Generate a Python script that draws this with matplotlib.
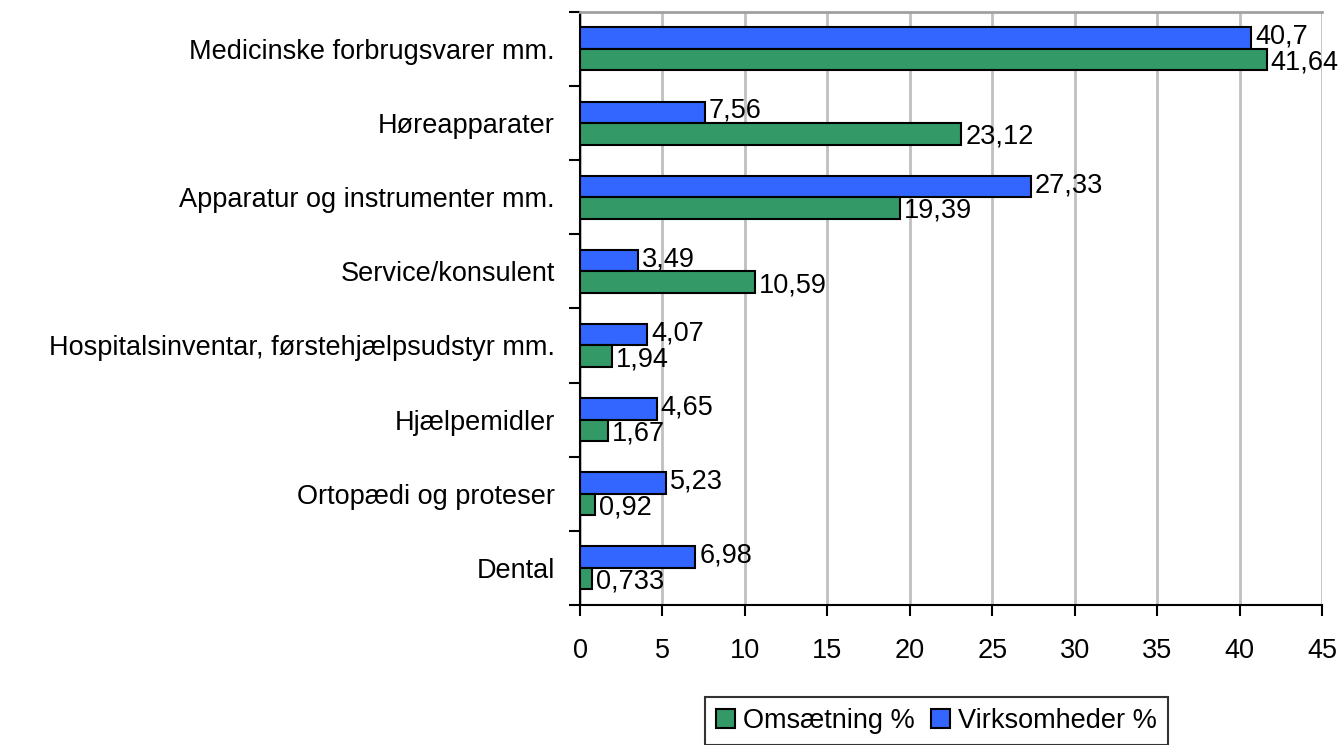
import matplotlib.pyplot as plt
import numpy as np

kategorier = ["Medicinske forbrugsvarer mm.", "Høreapparater", "Apparatur og instrumenter mm.",
              "Service/konsulent", "Hospitalsinventar, førstehjælpsudstyr mm.", "Hjælpemidler",
              "Ortopædi og proteser", "Dental"]
virksomheder = [40.7, 7.56, 27.33, 3.49, 4.07, 4.65, 5.23, 6.98]
omsaetning = [41.64, 23.12, 19.39, 10.59, 1.94, 1.67, 0.92, 0.733]
virk_tekst = ["40,7", "7,56", "27,33", "3,49", "4,07", "4,65", "5,23", "6,98"]
oms_tekst = ["41,64", "23,12", "19,39", "10,59", "1,94", "1,67", "0,92", "0,733"]

plt.rcParams['font.family'] = ['Liberation Sans', 'DejaVu Sans']
plt.rcParams['font.size'] = 19.5

fig = plt.figure(figsize=(13.38, 7.45), dpi=100)
ax = fig.add_axes([0.4335, 0.188, 0.988 - 0.4335, 0.984 - 0.188])

n = len(kategorier)
y = np.arange(n)[::-1]
h = 0.29
blaa = ax.barh(y + h / 2, virksomheder, h, color='#3366FF', edgecolor='black', lw=1.5,
               label='Virksomheder %', zorder=3)
groen = ax.barh(y - h / 2, omsaetning, h, color='#339966', edgecolor='black', lw=1.5,
                label='Omsætning %', zorder=3)

for i in range(n):
    ax.text(virksomheder[i] + 0.25, y[i] + h / 2 + 0.02, virk_tekst[i], va='center', ha='left', zorder=4)
    ax.text(omsaetning[i] + 0.25, y[i] - h / 2 - 0.04, oms_tekst[i], va='center', ha='left', zorder=4)

ax.set_xlim(0, 45)
ax.set_ylim(-0.5, n - 0.5)
ax.set_xticks(np.arange(0, 46, 5))
ax.set_yticks(y)
ax.set_yticklabels(kategorier)
ax.set_yticks(np.arange(-0.5, n, 1), minor=True)
ax.tick_params(axis='y', which='major', length=0, pad=18)
ax.tick_params(axis='y', which='minor', length=8, width=1.5, direction='out')
ax.tick_params(axis='x', length=8, width=1.5, direction='out', pad=16)
ax.xaxis.grid(True, color='#c0c0c0', lw=2, zorder=0)

for s in ['left', 'bottom']:
    ax.spines[s].set_linewidth(1.5)
ax.spines['top'].set_color('#a0a0a0')
ax.spines['top'].set_linewidth(2)
ax.spines['right'].set_visible(False)

leg = fig.legend([groen, blaa], ['Omsætning %', 'Virksomheder %'], loc='upper center',
                 bbox_to_anchor=(0.700, 1 - 697 / 745), ncol=2, frameon=True, fancybox=False,
                 edgecolor='black', handlelength=0.7, handleheight=0.7, handletextpad=0.3,
                 columnspacing=0.6, borderpad=0.4, borderaxespad=0)
leg.get_frame().set_linewidth(1.5)

fig.savefig('out.png', dpi=100)
